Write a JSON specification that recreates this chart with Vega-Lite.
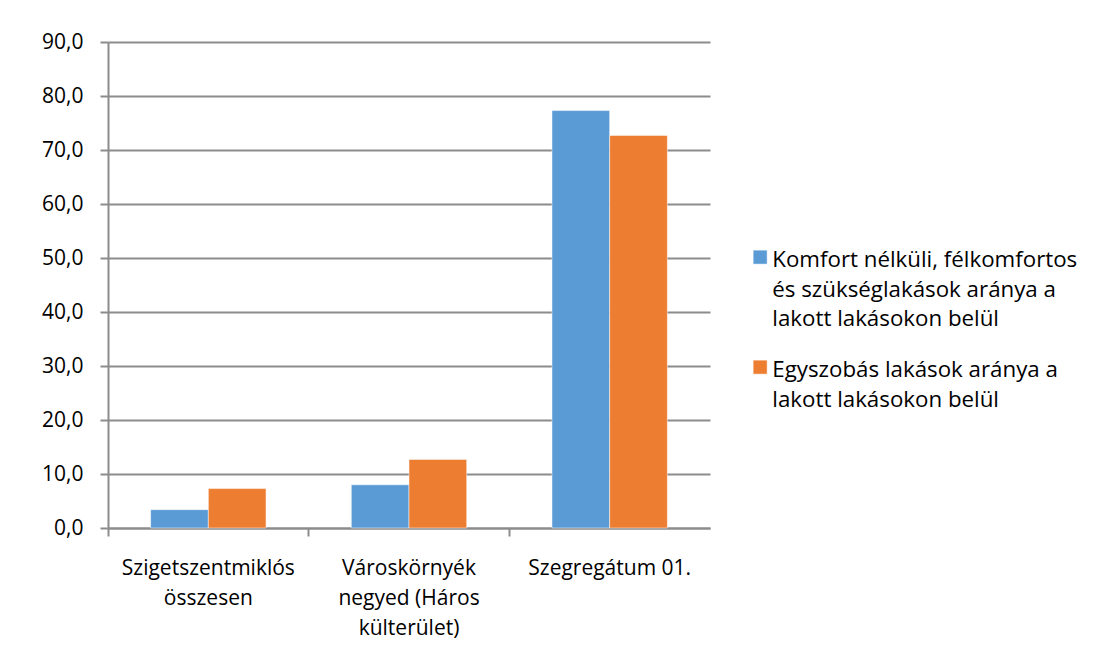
{
  "$schema": "https://vega.github.io/schema/vega-lite/v6.json",
  "width": 602,
  "height": 486,
  "autosize": {"type": "none"},
  "padding": {"left": 108, "top": 42, "right": 387, "bottom": 138},
  "background": "white",
  "data": {
    "values": [
      {"cat": "Szigetszentmiklós|összesen", "series": "Komfort nélküli, félkomfortos|és szükséglakások aránya a|lakott lakásokon belül", "value": 3.4},
      {"cat": "Szigetszentmiklós|összesen", "series": "Egyszobás lakások aránya a|lakott lakásokon belül", "value": 7.3},
      {"cat": "Városkörnyék|negyed (Háros|külterület)", "series": "Komfort nélküli, félkomfortos|és szükséglakások aránya a|lakott lakásokon belül", "value": 8.0},
      {"cat": "Városkörnyék|negyed (Háros|külterület)", "series": "Egyszobás lakások aránya a|lakott lakásokon belül", "value": 12.7},
      {"cat": "Szegregátum 01.", "series": "Komfort nélküli, félkomfortos|és szükséglakások aránya a|lakott lakásokon belül", "value": 77.3},
      {"cat": "Szegregátum 01.", "series": "Egyszobás lakások aránya a|lakott lakásokon belül", "value": 72.7}
    ]
  },
  "mark": {"type": "bar"},
  "encoding": {
    "x": {
      "field": "cat", "type": "nominal", "sort": null,
      "scale": {"paddingInner": 0, "paddingOuter": 0},
      "axis": {
        "title": null, "labelAngle": 0,
        "labelExpr": "split(datum.value, '|')",
        "labelFont": "Open Sans", "labelFontSize": 21, "labelColor": "#000000",
        "labelPadding": 21, "labelLineHeight": 30,
        "domainColor": "#8c8c8c", "domainWidth": 2,
        "tickColor": "#8c8c8c", "tickWidth": 2, "tickSize": 8,
        "bandPosition": 0, "grid": false
      }
    },
    "xOffset": {
      "field": "series", "type": "nominal", "sort": null,
      "scale": {"paddingInner": 0, "paddingOuter": 0.739}
    },
    "y": {
      "field": "value", "type": "quantitative",
      "scale": {"domain": [0, 90], "nice": false},
      "axis": {
        "title": null, "values": [0,10,20,30,40,50,60,70,80,90],
        "labelExpr": "replace(format(datum.value, '.1f'), '.', ',')",
        "labelFont": "Open Sans", "labelFontSize": 21, "labelColor": "#000000",
        "labelPadding": 17,
        "grid": true, "gridColor": "#8c8c8c", "gridWidth": 2,
        "domainColor": "#8c8c8c", "domainWidth": 2,
        "tickColor": "#8c8c8c", "tickWidth": 2, "tickSize": 8
      }
    },
    "color": {
      "field": "series", "type": "nominal", "sort": null,
      "scale": {"range": ["#5B9BD5", "#ED7D31"]},
      "legend": {
        "title": null, "orient": "none", "legendX": 641, "legendY": 196,
        "labelExpr": "split(datum.value, '|')",
        "labelFont": "Open Sans", "labelFontSize": 22.3, "labelColor": "#000000",
        "labelLimit": 400,
        "labelBaseline": "top",
        "symbolType": "M-1,0.14H1V2.14H-1Z", "symbolSize": 196, "symbolStrokeWidth": 0,
        "symbolOpacity": 1, "labelOffset": 1, "rowPadding": 17
      }
    }
  },
  "config": {
    "view": {"stroke": null},
    "bar": {"stroke": "white", "strokeWidth": 0.5},
    "style": {"guide-label": {"lineHeight": 29.5}}
  }
}
